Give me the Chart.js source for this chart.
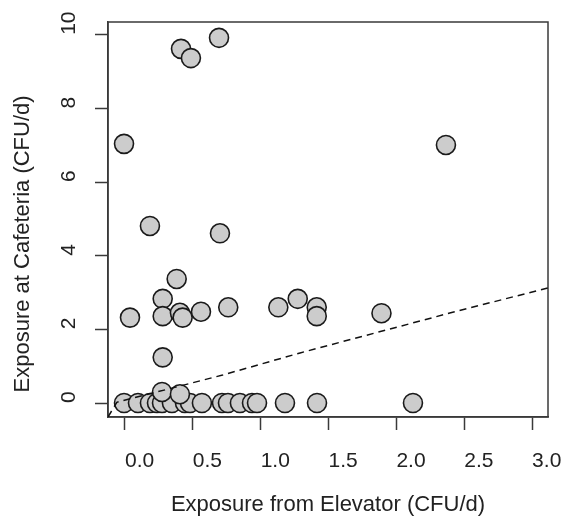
<!DOCTYPE html>
<html>
<head>
<meta charset="utf-8">
<script src="https://cdn.jsdelivr.net/npm/chart.js@4"></script>
<style>
body { margin: 0; background: #fff; }
</style>
</head>
<body>
<canvas id="graph_exposure" width="573" height="518"></canvas>
<script>
// exposure values
var elevatorX = [0.413, 0.486, 0.693, -0.007, 2.365, 0.184, 0.70, 0.381, 0.278, 0.037,
	0.278, 0.405, 0.425, 0.560, 0.761, 1.130, 1.273, 1.413, 1.413, 1.890, 0.278,
	-0.007, 0.096, 0.184, 0.236, 0.273, 0.346, 0.442, 0.479, 0.567, 0.715, 0.759,
	0.847, 0.936, 0.973, 1.179, 1.415, 2.122, 0.273, 0.405]
var cafeteriaY = [9.62, 9.37, 9.92, 7.04, 7.01, 4.81, 4.61, 3.37, 2.83, 2.32,
	2.36, 2.45, 2.32, 2.48, 2.60, 2.60, 2.83, 2.60, 2.36, 2.44, 1.24,
	0, 0, 0, 0, 0, 0, 0, 0, 0, 0, 0,
	0, 0, 0, 0, 0, 0, 0.30, 0.24]

// dashed fit line
var fitX = [-0.125, -0.06, 0.72, 1.29, 2.40, 3.12]
var fitY = [-0.38, 0.02, 0.76, 1.36, 2.45, 3.13]

var xTicks = [0, 0.5, 1, 1.5, 2, 2.5, 3]
var yTicks = [0, 2, 4, 6, 8, 10]

function jhwPairs(xs, ys) {
	var out = []
	for (i = 0; i < xs.length; i++) {
		out.push({x: xs[i], y: ys[i]})
	}
	return out
}

// box round the plot area, like R's box()
var jhwBoxPlugin = {
	id: 'jhwBox',
	beforeDatasetsDraw: function (chart) {
		var a = chart.chartArea
		var ctx = chart.ctx
		ctx.save()
		ctx.strokeStyle = '#3a3a3a'
		ctx.lineWidth = 1.5
		ctx.strokeRect(a.left, a.top, a.right - a.left, a.bottom - a.top)
		ctx.restore()
	}
}

var txt = '#222222'
var tickFnt = {family: '"Liberation Sans", Arial, sans-serif', size: 21}
var titleFnt = {family: '"Liberation Sans", Arial, sans-serif', size: 22}

new Chart(document.getElementById('graph_exposure'), {
	type: 'scatter',
	data: {
		datasets: [{
			type: 'line',
			data: jhwPairs(fitX, fitY),
			borderColor: '#111111',
			borderWidth: 1.5,
			borderDash: [7, 5],
			pointRadius: 0,
			fill: false,
			tension: 0
		}, {
			data: jhwPairs(elevatorX, cafeteriaY),
			backgroundColor: '#cccccc',
			borderColor: '#1a1a1a',
			borderWidth: 1.6,
			pointRadius: 9.5,
			pointHoverRadius: 9.5
		}]
	},
	options: {
		responsive: false,
		animation: false,
		events: [],
		layout: {padding: {left: 0, top: 22, right: 25, bottom: 0}},
		plugins: {legend: {display: false}, tooltip: {enabled: false}},
		scales: {
			x: {
				type: 'linear',
				min: -0.125,
				max: 3.117,
				afterBuildTicks: function (s) { s.ticks = xTicks.map(function (v) { return {value: v} }) },
				afterFit: function (s) {
					s.height = 101
					s.paddingLeft = 0
					s.paddingRight = 0
				},
				grid: {drawOnChartArea: false, drawTicks: true, tickLength: 13, tickColor: '#3a3a3a', tickWidth: 1.5},
				border: {display: true, color: '#3a3a3a', width: 1.5},
				ticks: {
					color: txt, font: tickFnt, padding: 19, align: 'start',
					maxRotation: 0, minRotation: 0,
					callback: function (v) { return v.toFixed(1) }
				},
				title: {display: true, text: 'Exposure from Elevator (CFU/d)', color: txt, font: titleFnt, padding: {top: 0, bottom: 0}}
			},
			y: {
				type: 'linear',
				min: -0.38,
				max: 10.35,
				afterBuildTicks: function (s) { s.ticks = yTicks.map(function (v) { return {value: v} }) },
				afterFit: function (s) {
					s.width = 108
					s.paddingTop = 0
					s.paddingBottom = 0
				},
				grid: {drawOnChartArea: false, drawTicks: true, tickLength: 13, tickColor: '#3a3a3a', tickWidth: 1.5},
				border: {display: true, color: '#3a3a3a', width: 1.5},
				ticks: {
					color: txt, font: tickFnt, padding: 14, labelOffset: -11.7,
					minRotation: 90, maxRotation: 90, crossAlign: 'center',
					// pad one-digit labels so every label starts at its tick
					callback: function (v) { return v < 10 ? v + '  ' : String(v) }
				},
				title: {display: true, text: 'Exposure at Cafeteria (CFU/d)        ', color: txt, font: titleFnt, padding: {top: 10, bottom: 0}}
			}
		}
	},
	plugins: [jhwBoxPlugin]
})
</script>
</body>
</html>
